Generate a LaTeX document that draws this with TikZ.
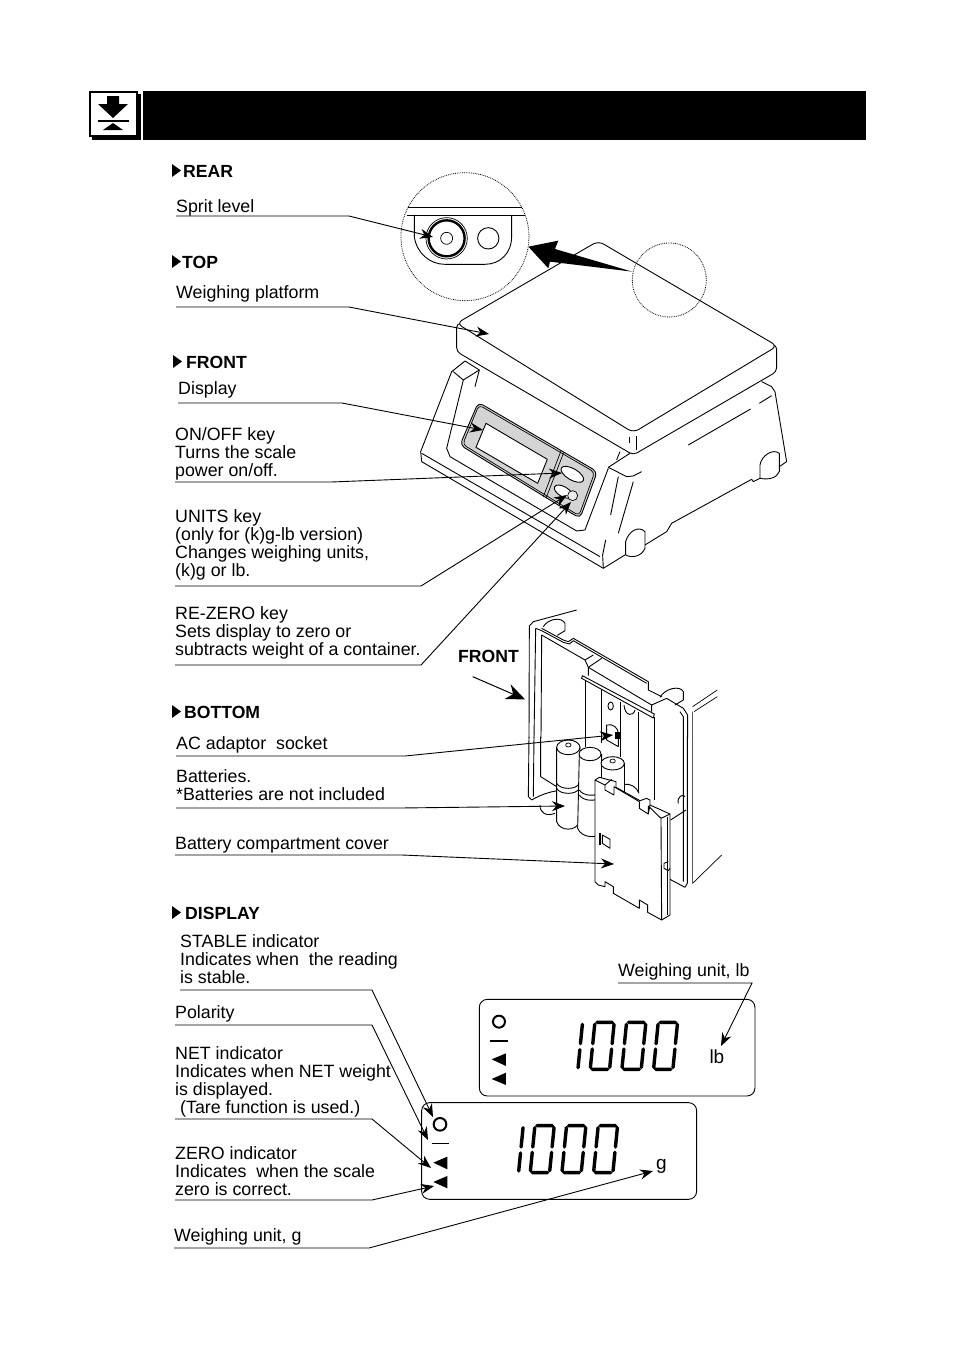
\documentclass[tikz,border=0pt]{standalone}
\usepackage{fontspec}
\setmainfont{Liberation Sans}
\usetikzlibrary{arrows.meta}

\tikzset{
	lbl/.style={font=\fontsize{17.8}{18}\selectfont, align=left, anchor=south west, inner sep=0pt, yshift=-6.2pt, execute at end node=\strut},
	sect/.style={font=\fontsize{17.6}{18}\selectfont\bfseries, anchor=base west, inner sep=0pt},
	unitlbl/.style={font=\fontsize{19}{20}\selectfont, anchor=base west, inner sep=0pt},
	leader/.style={line width=.9pt, -{Stealth[length=13pt,width=10pt]}},
	part/.style={line width=.9pt, line join=round},
	thin part/.style={line width=.7pt, line join=round},
	seg/.style={line width=3.4pt, line cap=round},
	lens/.style={line width=.8pt, densely dotted}
}
% seven segment digits, in the units of the scope around them
\newcommand{\segone}[2]{
	\begin{scope}[shift={(#1,#2)},xslant=0.1]
		\draw[seg] (0,8) -- (0,66) (0,84) -- (0,138);
	\end{scope}
}
\newcommand{\segzero}[2]{
	\begin{scope}[shift={(#1,#2)},xslant=0.1]
		\draw[seg] (0,8) -- (0,66) (0,82) -- (0,137) (6,143) -- (52,143)
			(58,137) -- (58,82) (58,66) -- (58,8) (52,2) -- (6,2);
	\end{scope}
}

\begin{document}
\begin{tikzpicture}[x=1pt,y=-1pt]
	\useasboundingbox (0,0) rectangle (954,1350);

	% title bar and its mark
	\fill (143,91) rectangle (866,140);
	\fill (92,94) rectangle (141,140);
	\draw[line width=2pt,fill=white] (90,92) rectangle (137,136);
	\fill (107,96) -- (119,96) -- (119,104) -- (128,104) -- (113,118) -- (98,104) -- (107,104) -- cycle;
	\draw[line width=1.4pt] (98,121) -- (129,121);
	\fill (113,123) -- (123,130) -- (103,130) -- cycle;

	% section heads
	\foreach \name/\mx/\tx/\by/\txt in {rear/172/183/177/REAR, top/172/182/268/TOP, front/173/186/368/FRONT, bottom/172/184/718/BOTTOM, disp/172/185/919/DISPLAY} {
		\fill (\mx,\by-13) -- (\mx+9,\by-6.5) -- (\mx,\by) -- cycle;
		\node[sect] (\name) at (\tx,\by) {\txt};
	}

	% rear view, in the lens
	\begin{scope}[shift={(80,80)},x=.3333pt,y=-.3333pt]
		\draw[lens] (1155,470) circle (192);
		\draw[part] (985,382) -- (1325,382) (980,405) -- (1335,405);
		\draw[part] (1003,405) -- (1003,470) .. controls (1010,520) and (1050,553) .. (1095,553)
			-- (1215,553) .. controls (1260,553) and (1295,520) .. (1295,470) -- (1295,405);
		\draw[thin part] (1100,475) circle (62);
		\draw[line width=2.4pt] (1100,475) circle (54);
		\draw[thin part] (1100,475) circle (18);
		\draw[part] (1225,475) circle (32);
	\end{scope}

	% scale, seen from above
	\begin{scope}[shift={(400,230)},x=.3333pt,y=-.3333pt]
		% base
		\draw[part] (1085,455) -- (1115,470) -- (1125,485) -- (1160,695) -- (1138,710);
		\draw[part] (1080,745) -- (1060,755) -- (1055,748) -- (815,880) -- (800,905) -- (735,945);
		\draw[part] (1080,745) -- (1080,705) .. controls (1085,675) and (1120,655) .. (1138,670) -- (1138,725) .. controls (1130,745) and (1105,750) .. (1080,745);
		\draw[part] (677,975) -- (677,935) .. controls (685,905) and (715,885) .. (735,905) -- (735,955) .. controls (725,980) and (695,985) .. (677,975);
		\draw[part] (675,975) -- (610,1015) -- (65,695) -- (62,665) -- (155,425) -- (195,393) -- (238,420) -- (190,450) -- (160,425);
		\draw[part] (65,670) -- (600,980);
		\draw[part] (190,450) -- (140,655) -- (150,680) -- (530,903) -- (555,900) -- (625,715);
		\draw[part] (238,420) -- (225,470);
		\draw[part] (610,1015) -- (608,975) -- (617,930);
		\draw[part] (625,712) -- (690,670);
		\draw[part] (625,712) -- (680,740) -- (700,738) -- (725,725);
		\draw[part] (655,740) -- (632,855) (700,755) -- (655,910) (660,665) -- (650,690);
		\draw[part] (865,645) -- (1052,537) (1078,520) -- (1115,497);
		% key panel
		\draw[part,rounded corners=5pt,fill=black!17] (235,517) -- (592,725) -- (540,865) -- (180,645) -- cycle;
		\draw[thin part,rounded corners=4pt] (237,525) -- (584,727) -- (537,857) -- (188,643) -- cycle;
		\draw[part,fill=white] (258,580) -- (442,688) -- (413,760) -- (228,652) -- cycle;
		\draw[thin part] (483,663) -- (430,800) (491,668) -- (438,805);
		\draw[part,fill=white,rotate around={-30:(517,733)}] (517,733) ellipse (38 and 17);
		\draw[part,fill=white,rotate around={-30:(490,785)}] (490,785) ellipse (30 and 15);
		\draw[thin part,fill=black!8] (518,797) circle (15);
		% platform
		\draw[part,fill=white,rounded corners=4pt] (170,280) -- (170,365) -- (700,675) -- (1130,425) -- (1130,345) -- cycle;
		\draw[part,fill=white,rounded corners=6pt] (170,280) -- (595,33) -- (1132,348) -- (700,608) -- cycle;
		\draw[part] (688,620) -- (688,638) (709,618) -- (709,660);
		% lens and its arrow
		\draw[lens] (808,150) circle (111);
		\fill (385,50) -- (475,32) -- (465,57) -- (697,125) -- (450,95) -- (445,115) -- cycle;
	\end{scope}

	% scale, seen from below: the back edge with its block and its knobs
	\begin{scope}[shift={(520,610)},x=.3333pt,y=-.3333pt]
		\draw[part] (170,0) -- (40,35) -- (28,48) -- (27,385);
		\draw[part] (47,55) -- (42,385) (65,75) -- (63,385);
		\draw[part] (47,55) -- (65,62);
		\draw[part] (70,50) .. controls (85,25) and (125,20) .. (135,40) -- (135,62) -- (112,76);
		\draw[part] (65,55) -- (130,90) -- (145,95) -- (160,85) -- (385,215) -- (385,240) -- (425,260);
		\draw[part] (65,62) -- (130,97) -- (148,102) -- (160,92) -- (380,220);
		\draw[part] (65,75) -- (195,150) -- (220,135);
		\draw[part] (205,172) -- (245,145) (205,172) -- (395,285) -- (440,265);
		\draw[part] (195,150) -- (205,172) -- (205,197) (395,285) -- (395,305);
		\draw[part] (187,197) -- (403,312) -- (400,324) -- (185,205) -- cycle;
		\draw[part] (195,210) -- (195,385) (245,240) -- (245,385) (300,275) -- (300,385) (355,305) -- (355,385) (403,322) -- (403,385);
		\draw[part] (272,288) ellipse (8 and 12);
		\draw[part] (312,285) .. controls (315,320) and (340,320) .. (345,300);
		\draw[part] (420,262) .. controls (435,235) and (480,225) .. (490,245) -- (490,270) -- (465,285);
		\draw[part] (440,265) -- (490,295) -- (503,315) -- (503,385);
	\end{scope}

	% scale, seen from below: the walls and the socket
	\begin{scope}[shift={(450,600)},x=.3333pt,y=-.3333pt]
		\draw[part] (237,410) -- (235,590) -- (245,600) (252,410) -- (250,590) (272,410) -- (272,530) -- (320,560);
		\draw[part] (245,600) .. controls (270,585) and (300,575) .. (320,573);
		\draw[part] (270,615) .. controls (270,640) and (290,650) .. (315,640);
		\draw[part] (712,410) -- (712,850) -- (705,862) -- (660,838);
		\draw[part] (690,335) -- (700,350) -- (700,845);
		\draw[thin part] (728,320) -- (802,270) (732,335) -- (802,290) (728,335) -- (728,850) -- (815,765);
		\draw[part] (455,410) -- (455,430) (512,410) -- (512,470) (565,410) -- (565,580) (612,410) -- (612,600) (405,410) -- (405,440);
		\draw[part] (470,375) .. controls (490,370) and (505,385) .. (505,400) -- (505,440) (470,375) -- (470,420) -- (505,440);
		\fill (494,396) rectangle (510,416);
		\draw[part] (685,610) .. controls (680,590) and (700,580) .. (705,590);
		\draw[part] (662,660) -- (708,630);
		% arrow for the front of the scale
		\coordinate (frontA) at (68,230);
		\coordinate (frontB) at (225,298);
		\draw[line width=1pt,-{Stealth[length=19pt,width=16pt]}] (frontA) -- (frontB);
	\end{scope}
	\node[sect] (frontlbl) at (458,662) {FRONT};

	% scale, seen from below: the batteries and the cover
	\begin{scope}[shift={(540,740)},x=.3333pt,y=-.3333pt]
		\draw[part,fill=white] (50,22) -- (50,245) .. controls (60,275) and (110,275) .. (118,245) -- (120,22);
		\draw[part,fill=white] (85,22) ellipse (35 and 22);
		\draw[thin part] (85,15) ellipse (8 and 6);
		\draw[part] (50,130) .. controls (60,150) and (110,150) .. (118,130) (50,145) .. controls (60,165) and (110,165) .. (118,145);
		\draw[part,fill=white] (118,42) -- (113,265) .. controls (125,295) and (170,295) .. (185,280) -- (185,42);
		\draw[part,fill=white] (150,42) ellipse (33 and 20);
		\draw[part] (118,150) .. controls (130,170) and (170,170) .. (185,155) (118,165) .. controls (130,185) and (170,185) .. (185,170);
		\draw[part,fill=white] (183,70) -- (183,200) -- (253,200) -- (253,70);
		\draw[part,fill=white] (218,70) ellipse (35 and 20);
		\draw[thin part] (218,63) ellipse (8 and 6);
		\draw[part] (253,133) .. controls (270,130) and (290,140) .. (297,160);
		% cover
		\draw[part,fill=white] (165,120) -- (178,112) -- (228,125) -- (228,142) -- (300,182) -- (320,175) -- (330,180) -- (330,195) -- (390,222) -- (390,525) -- (365,540) -- (323,517) -- (323,495) -- (298,480) -- (298,505) -- (220,460) -- (220,440) -- (195,425) -- (195,440) -- (175,435) -- (165,425) -- cycle;
		\draw[part] (165,120) -- (195,135) -- (195,150) -- (222,165) -- (222,140) -- (298,185) -- (298,205) -- (325,222) -- (325,198) -- (363,235) -- (365,540);
		\draw[part] (325,222) -- (330,195) (363,235) -- (390,222) (195,135) -- (215,118);
		\draw[thin part] (383,230) -- (383,525);
		\draw[part] (372,370) -- (372,385) -- (385,392) -- (390,385) (372,370) -- (385,365);
		\draw[line width=1.4pt] (180,280) -- (180,315);
		\draw[part] (187,285) -- (210,298) -- (210,325) -- (187,310) -- cycle;
	\end{scope}

	% the two displays
	\begin{scope}[shift={(400,980)},x=.3333pt,y=-.3333pt]
		\draw[part,rounded corners=8pt] (238,58) rectangle (1065,348);
		\draw[line width=2pt] (297,125) circle (18);
		\draw[line width=1.5pt] (270,183) -- (323,183);
		\fill (275,238) -- (318,220) -- (318,258) -- cycle;
		\fill (275,297) -- (318,278) -- (318,315) -- cycle;
		\segone{548}{125}
		\segzero{585}{125}
		\segzero{680}{125}
		\segzero{775}{125}
		\node[unitlbl] (unitlb) at (928,250) {lb};
		\draw[part,rounded corners=8pt] (65,368) rectangle (890,658);
		\draw[line width=2pt] (120,433) circle (19);
		\draw[line width=1.5pt] (95,491) -- (148,491);
		\fill (100,548) -- (142,530) -- (142,568) -- cycle;
		\fill (100,606) -- (142,588) -- (142,625) -- cycle;
		\segone{370}{435}
		\segzero{405}{435}
		\segzero{500}{435}
		\segzero{595}{435}
		\node[unitlbl] (unitg) at (768,568) {g};
	\end{scope}

	% labels
	\node[lbl] (level) at (176,212) {Sprit level};
	\node[lbl] (platform) at (176,298) {Weighing platform};
	\node[lbl] (display) at (178,394) {Display};
	\node[lbl] (onoff) at (175,476) {ON/OFF key\\Turns the scale\\power on/off.};
	\node[lbl] (units) at (175,576) {UNITS key\\(only for (k)g-lb version)\\Changes weighing units,\\(k)g or lb.};
	\node[lbl] (rezero) at (175,655) {RE-ZERO key\\Sets display to zero or\\subtracts weight of a container.};
	\node[lbl] (socket) at (176,749) {AC adaptor\ \ socket};
	\node[lbl] (batt) at (176,800) {Batteries.\\*Batteries are not included};
	\node[lbl] (cover) at (175,849) {Battery compartment cover};
	\node[lbl] (stable) at (180,983) {STABLE indicator\\Indicates when\ \ the reading\\is stable.};
	\node[lbl] (polar) at (175,1018) {Polarity};
	\node[lbl] (net) at (175,1113) {NET indicator\\Indicates when NET weight\\is displayed.\\\hspace{5pt}(Tare function is used.)};
	\node[lbl] (zero) at (175,1195) {ZERO indicator\\Indicates\ \ when the scale\\zero is correct.};
	\node[lbl] (wug) at (174,1241) {Weighing unit, g};
	\node[lbl] (wulb) at (618,976) {Weighing unit, lb};

	% leaders, name / underline y / knee x / tip
	\foreach \name/\uy/\kx/\tx/\ty in {level/216/349/433/237, platform/307/349/489/334, display/403/342/483/430,
		onoff/482/331/562/473, units/586/421/567/495, rezero/665/421/571/502, socket/756/405/613/735,
		batt/808/400/565/806, cover/855/402/614/864, stable/990/372/433/1117, polar/1025/372/428/1140,
		net/1119/372/431/1168, zero/1200/372/434/1186, wug/1248/369/653/1171, wulb/983/752/721/1046} {
		\coordinate (\name-k) at (\kx,\uy);
		\coordinate (\name-t) at (\tx,\ty);
		\draw[leader] (\name.west |- \name-k) -- (\name-k) -- (\name-t);
	}
\end{tikzpicture}
\end{document}
